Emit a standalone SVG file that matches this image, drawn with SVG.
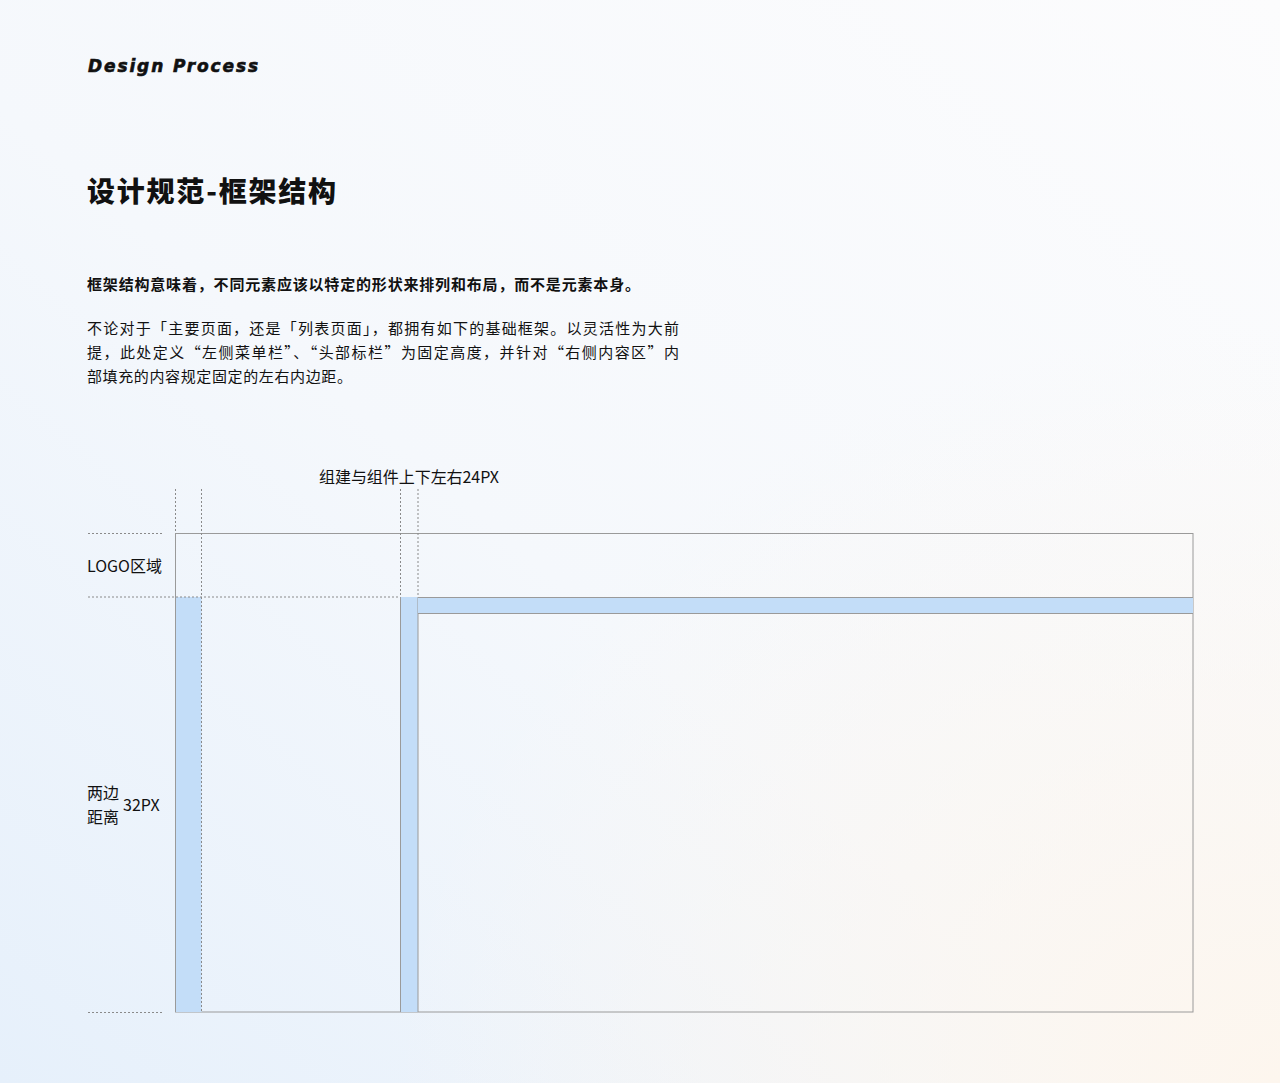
<svg xmlns="http://www.w3.org/2000/svg" width="1280" height="1083" viewBox="0 0 1280 1083">
<defs>
<linearGradient id="bg" x1="0" y1="1" x2="1" y2="0">
<stop offset="0" stop-color="#e6f0fb"/>
<stop offset="0.45" stop-color="#f5f8fc"/>
<stop offset="1" stop-color="#fcfcfd"/>
</linearGradient>
<radialGradient id="warm" cx="1" cy="1" r="0.7">
<stop offset="0" stop-color="#fdf6ee" stop-opacity="1"/>
<stop offset="1" stop-color="#fdf6ee" stop-opacity="0"/>
</radialGradient>
<style>
.cn{font-family:"Noto Sans CJK SC","Noto Sans",sans-serif;fill:#111}
.dot{stroke:#8a8a8a;stroke-width:1;stroke-dasharray:2 2;fill:none}
.edge{stroke:#9a9a9a;stroke-width:1;fill:none}
.blue{fill:#c3ddf8}
</style>
</defs>
<rect width="1280" height="1083" fill="url(#bg)"/>
<rect width="1280" height="1083" fill="url(#warm)"/>

<g id="header">
<text x="88" y="72" font-family="DejaVu Sans,sans-serif" font-weight="bold" font-style="italic" font-size="17" textLength="170" lengthAdjust="spacing" fill="#111" stroke="#111" stroke-width="0.6">Design Process</text>
<text class="cn" x="87" y="202" font-size="28" font-weight="900" textLength="249" lengthAdjust="spacing">设计规范-框架结构</text>
<text class="cn" x="87" y="290" font-size="15" font-weight="bold" textLength="553" lengthAdjust="spacing">框架结构意味着，不同元素应该以特定的形状来排列和布局，而不是元素本身。</text>
<text class="cn" x="87" y="334" font-size="15" fill="#333" textLength="592" lengthAdjust="spacing">不论对于「主要页面，还是「列表页面」，都拥有如下的基础框架。以灵活性为大前</text>
<text class="cn" x="87" y="358" font-size="15" fill="#333" textLength="592" lengthAdjust="spacing">提，此处定义“左侧菜单栏”、“头部标栏”为固定高度，并针对“右侧内容区”内</text>
<text class="cn" x="87" y="382" font-size="15" fill="#333" textLength="265" lengthAdjust="spacing">部填充的内容规定固定的左右内边距。</text>
</g>

<g id="frame">
<rect x="175.5" y="533.5" width="1017.5" height="478.5" fill="#ffffff" fill-opacity="0.25" class="edge"/>
</g>
<g id="left-padding">
<rect class="blue" x="176" y="597" width="25.5" height="415"/>
</g>
<g id="gap-bar">
<rect class="blue" x="400.5" y="597" width="17.5" height="415"/>
<line class="edge" x1="400.5" y1="597" x2="400.5" y2="1012"/>
<line class="edge" x1="418" y1="597" x2="418" y2="1012"/>
</g>
<g id="top-bar">
<rect class="blue" x="418" y="597" width="775" height="16"/>
<line class="edge" x1="418" y1="597.5" x2="1193" y2="597.5"/>
<line class="edge" x1="418" y1="613.5" x2="1193" y2="613.5"/>
</g>

<g id="guides">
<line class="dot" x1="175.5" y1="489" x2="175.5" y2="533"/>
<line class="dot" x1="201.5" y1="489" x2="201.5" y2="1012"/>
<line class="dot" x1="400.5" y1="489" x2="400.5" y2="597"/>
<line class="dot" x1="418" y1="489" x2="418" y2="597"/>
<line class="dot" x1="88" y1="533.5" x2="162" y2="533.5"/>
<line class="dot" x1="88" y1="597" x2="400" y2="597"/>
<line class="dot" x1="88" y1="1012.5" x2="162" y2="1012.5"/>
</g>

<g id="labels">
<text class="cn" x="319" y="483" font-size="16" textLength="180" lengthAdjust="spacing">组建与组件上下左右24PX</text>
<text class="cn" x="87" y="572" font-size="16">LOGO区域</text>
<text class="cn" x="87" y="799" font-size="16">两边</text>
<text class="cn" x="87" y="823" font-size="16">距离</text>
<text class="cn" x="123" y="811" font-size="16">32PX</text>
</g>
</svg>
